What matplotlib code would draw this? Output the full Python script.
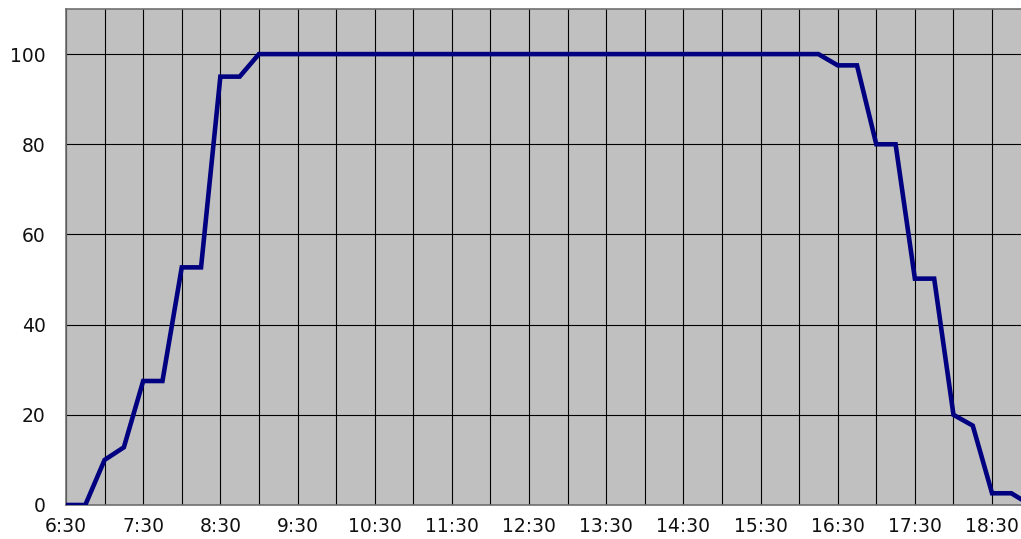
import matplotlib
matplotlib.use("Agg")
import matplotlib.pyplot as plt

plt.rcParams['font.family'] = ['DejaVu Sans']

# 15-minute samples starting 6:30
times = ["6:30", "6:45", "7:00", "7:15", "7:30", "7:45", "8:00", "8:15", "8:30", "8:45",
         "9:00", "9:15", "9:30", "9:45", "10:00", "10:15", "10:30", "10:45", "11:00", "11:15",
         "11:30", "11:45", "12:00", "12:15", "12:30", "12:45", "13:00", "13:15", "13:30", "13:45",
         "14:00", "14:15", "14:30", "14:45", "15:00", "15:15", "15:30", "15:45", "16:00", "16:15",
         "16:30", "16:45", "17:00", "17:15", "17:30", "17:45", "18:00", "18:15", "18:30", "18:45",
         "19:00"]
values = [0, 0, 10, 12.8, 27.5, 27.5, 52.7, 52.7, 95, 95,
          100, 100, 100, 100, 100, 100, 100, 100, 100, 100,
          100, 100, 100, 100, 100, 100, 100, 100, 100, 100,
          100, 100, 100, 100, 100, 100, 100, 100, 100, 100,
          97.5, 97.5, 80, 80, 50.2, 50.2, 20, 17.6, 2.6, 2.6,
          0]
xtick_labels = ["6:30", "7:30", "8:30", "9:30", "10:30", "11:30", "12:30",
                "13:30", "14:30", "15:30", "16:30", "17:30", "18:30"]
yticks = [0, 20, 40, 60, 80, 100]


def to_hours(s):
    h, m = s.split(":")
    return int(h) + int(m) / 60.0


x = [to_hours(t) for t in times]

fig = plt.figure(figsize=(10.21, 5.39), dpi=100)
ax = fig.add_axes([66 / 1021, 1 - 505 / 539, 1 - 66 / 1021, (505 - 9) / 539])
ax.set_facecolor('#C0C0C0')

ax.plot(x, values, color='#000080', lw=3.3, solid_joinstyle='miter', zorder=3)

# vertical grid every 30 min, labels every hour
minor = [6.5 + 0.5 * i for i in range(25)]
ax.set_xticks(minor, minor=True)
ax.set_xticks([to_hours(t) for t in xtick_labels])
ax.set_xticklabels(xtick_labels)
ax.set_yticks(yticks)

ax.set_xlim(6.5, 18.875)
ax.set_ylim(0, 110)

ax.grid(True, which='both', axis='x', color='black', lw=0.8)
ax.grid(True, which='major', axis='y', color='black', lw=0.8)
ax.set_axisbelow(True)

ax.tick_params(axis='both', which='both', length=0, labelsize=13.5, colors='#111111')
ax.tick_params(axis='x', pad=9)
ax.tick_params(axis='y', pad=14.5)

for side in ['left', 'top', 'bottom']:
    ax.spines[side].set_color('#707070')
    ax.spines[side].set_linewidth(1.2)
ax.spines['right'].set_visible(False)

fig.savefig('out.png', dpi=100, facecolor='white')
